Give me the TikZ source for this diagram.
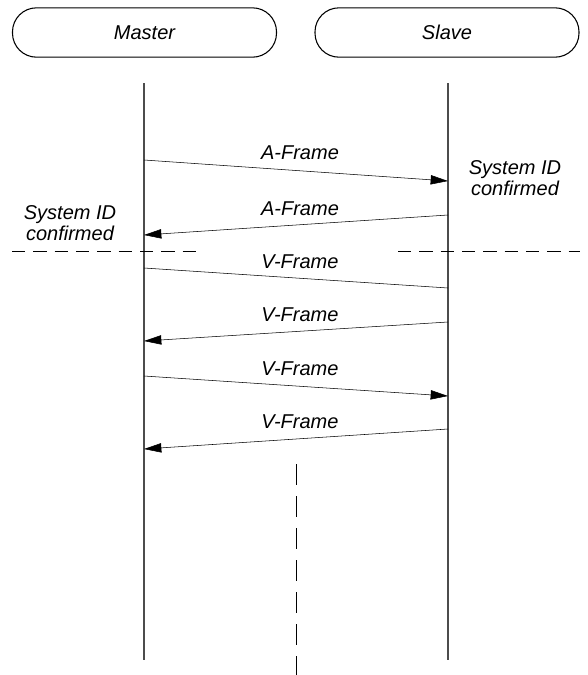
\documentclass[tikz,border=0pt]{standalone}
\usepackage{fontspec}
\setmainfont{Liberation Sans}
\usetikzlibrary{arrows.meta}
\tikzset{
  party/.style={draw,thick,rounded corners=18pt,minimum width=198pt,minimum height=37pt,inner sep=0pt},
  msg/.style={-{Triangle[length=13pt,width=7pt]}},
  lbl/.style={inner sep=0pt},
}

\begin{document}
\begin{tikzpicture}[x=0.75pt,y=-0.75pt,font=\fontsize{15pt}{16pt}\selectfont\itshape]
\useasboundingbox (0,0) rectangle (587,675);
% the two parties, lifelines below them
\node[party] (master) at (144.5,32.5) {Master};
\node[party] (slave) at (447,32.5) {Slave};
\coordinate (mtop) at (144,83); \coordinate (mbot) at (144,660);
\coordinate (stop) at (448,83); \coordinate (sbot) at (448,660);
\draw[thick,black!70] (mtop) -- (mbot);
\draw[thick,black!70] (stop) -- (sbot);
% message ends on the lifelines
\coordinate (m1) at (144,160); \coordinate (s1) at (448,181);
\coordinate (s2) at (448,215); \coordinate (m2) at (144,235);
\coordinate (m3) at (144,268); \coordinate (s3) at (448,288);
\coordinate (s4) at (448,322); \coordinate (m4) at (144,341);
\coordinate (m5) at (144,376); \coordinate (s5) at (448,396);
\coordinate (s6) at (448,429); \coordinate (m6) at (144,449);
\draw[msg] (m1) -- (s1); \node[lbl] (a1) at (300,153) {A-Frame};
\draw[msg] (s2) -- (m2); \node[lbl] (a2) at (300,209) {A-Frame};
\draw (m3) -- (s3); \node[lbl] (v1) at (300,262) {V-Frame};
\draw[msg] (s4) -- (m4); \node[lbl] (v2) at (300,315) {V-Frame};
\draw[msg] (m5) -- (s5); \node[lbl] (v3) at (300,369) {V-Frame};
\draw[msg] (s6) -- (m6); \node[lbl] (v4) at (300,422) {V-Frame};
% confirmations
\node[lbl,align=center] (sconf) at (515,178) {System ID\\confirmed};
\node[lbl,align=center] (mconf) at (70,223) {System ID\\confirmed};
% separators
\coordinate (hl1) at (12,251); \coordinate (hl2) at (196,251);
\coordinate (hr1) at (398,251); \coordinate (hr2) at (580,251);
\draw[dash pattern=on 10pt off 6pt] (hl1) -- (hl2);
\draw[dash pattern=on 10pt off 6pt] (hr1) -- (hr2);
\coordinate (vt) at (296,464); \coordinate (vb) at (296,675);
\draw[semithick,dash pattern=on 16pt off 8pt] (vt) -- (vb);
\end{tikzpicture}
\end{document}
